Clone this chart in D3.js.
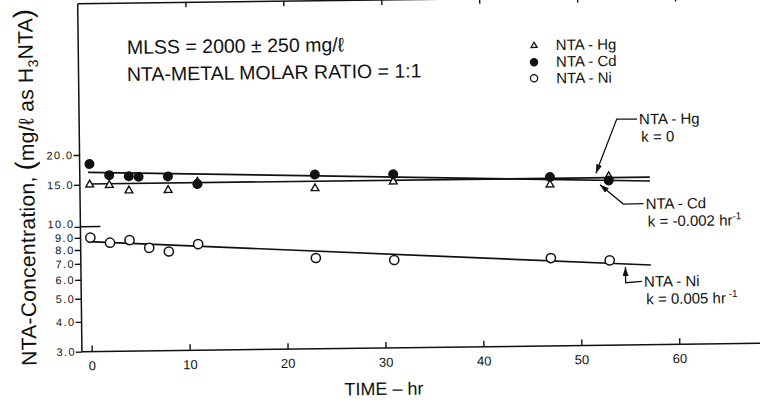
<!DOCTYPE html>
<meta charset="utf-8">
<style>
  body { margin: 0; background: #fff; }
  svg { display: block; font-family: "Liberation Sans", Arial, Helvetica, sans-serif; }
  text { fill: #111; }
</style>
<svg width="760" height="403"></svg>
<script src="https://d3js.org/d3.v7.min.js"></script>
<script>

// readings (time in hr, NTA in mg/l as H3NTA)
var hgHours = [0, 2, 4, 8, 11, 23, 31, 47, 53],
    hgConc  = [15.0, 14.9, 14.1, 14.1, 15.2, 14.1, 14.9, 14.2, 15.3];
var cdHours = [0, 2, 4, 5, 8, 11, 23, 31, 47, 53],
    cdConc  = [18.3, 16.4, 16.2, 16.1, 16.1, 14.9, 16.1, 16.0, 15.3, 14.7];
var niHours = [0, 2, 4, 6, 8, 11, 23, 31, 47, 53],
    niConc  = [9.0, 8.55, 8.75, 8.1, 7.8, 8.35, 7.2, 7.0, 7.0, 6.8];

// fitted first-order lines, end points
var fitHours = [-0.15, 57.2],
    hgFit = [15.1, 15.1],
    cdFit = [16.9, 14.55],
    niFit = [8.66, 6.47];

var xTicks = [0, 10, 20, 30, 40, 50, 60],
    yTicks = [3, 4, 5, 6, 7, 8, 9, 10, 15, 20];

var svg = d3.select("svg");
// the printed figure sits a little crooked on the page
var g = svg.append("g").attr("transform", "rotate(-0.7,380,200)");

var x = d3.scaleLinear().domain([0, 60]).range([89.9, 677.5]),
    y = d3.scaleLog().domain([3, 20]).range([348, 151.3]);

var left = x(-1), right = 790, top = 9.7, bottom = y(3);

svg.append("defs").append("marker")
    .attr("id", "arr")
    .attr("markerUnits", "userSpaceOnUse")
    .attr("markerWidth", 9).attr("markerHeight", 6)
    .attr("refX", 9).attr("refY", 3)
    .attr("orient", "auto")
  .append("path").attr("d", "M0,0L9,3L0,6Z").attr("fill", "#111");

// frame
var frame = g.append("g").attr("stroke", "#111").attr("stroke-width", 1.5);
frame.append("line").attr("x1", left).attr("x2", right).attr("y1", bottom).attr("y2", bottom);
frame.append("line").attr("x1", left).attr("x2", right).attr("y1", top).attr("y2", top);
frame.append("line").attr("x1", left).attr("x2", left).attr("y1", top).attr("y2", bottom);
frame.append("line").attr("x1", left).attr("x2", left + 20).attr("y1", y(10)).attr("y2", y(10));

// axes
var xAxis = g.append("g")
    .attr("transform", "translate(0," + bottom + ")")
    .call(d3.axisBottom(x).tickValues(xTicks).tickSizeInner(-6).tickSizeOuter(0).tickPadding(9.5));
xAxis.select(".domain").remove();
xAxis.attr("font-size", 13).attr("font-family", null);

var topAxis = g.append("g")
    .attr("transform", "translate(0," + top + ")")
    .call(d3.axisTop(x).tickValues(xTicks.slice(1)).tickSizeInner(-5).tickSizeOuter(0).tickFormat(""));
topAxis.select(".domain").remove();

var yAxis = g.append("g")
    .attr("transform", "translate(" + left + ",0)")
    .call(d3.axisLeft(y).tickValues(yTicks).tickSize(6).tickPadding(0).tickFormat(d3.format(".1f")));
yAxis.select(".domain").remove();
yAxis.attr("font-size", 11).attr("font-family", null);
yAxis.selectAll("text")
    .attr("letter-spacing", "1.4px")
    .attr("y", function(d) { return d === 10 ? -3 : 0; });

g.selectAll(".tick line").attr("stroke", "#111").attr("stroke-width", 1.4);
g.selectAll(".tick text").attr("fill", "#111");

// axis titles
g.append("text")
    .attr("x", 381.6).attr("y", 395)
    .attr("text-anchor", "middle")
    .attr("font-size", 18)
    .text("TIME – hr");

var yl = g.append("text")
    .attr("transform", "translate(27.2,183) rotate(-90)")
    .attr("text-anchor", "middle")
    .attr("dy", "0.35em")
    .attr("font-size", 21)
    .attr("letter-spacing", "0.3px");
yl.append("tspan").text("NTA-Concentration, ");
yl.append("tspan").attr("font-size", 27).text("(");
yl.append("tspan").text("mg/ℓ as H");
yl.append("tspan").attr("font-size", 14).attr("dy", 5).text("3");
yl.append("tspan").attr("dy", -5).text("NTA");
yl.append("tspan").attr("font-size", 27).text(")");

// fitted lines
var line = d3.line().x(function(d) { return x(d[0]); }).y(function(d) { return y(d[1]); });
[hgFit, cdFit, niFit].forEach(function(f) {
  g.append("path")
      .attr("d", line(d3.zip(fitHours, f)))
      .attr("fill", "none")
      .attr("stroke", "#111")
      .attr("stroke-width", 1.7);
});

// points
var tri = d3.symbol(d3.symbolTriangle).size(26);
g.append("g").selectAll("path")
    .data(d3.zip(hgHours, hgConc))
  .enter().append("path")
    .attr("d", tri)
    .attr("transform", function(d) { return "translate(" + x(d[0]) + "," + y(d[1]) + ")"; })
    .attr("fill", "#fff").attr("stroke", "#111").attr("stroke-width", 1.4);

g.append("g").selectAll("circle")
    .data(d3.zip(cdHours, cdConc))
  .enter().append("circle")
    .attr("cx", function(d) { return x(d[0]); })
    .attr("cy", function(d) { return y(d[1]); })
    .attr("r", 5)
    .attr("fill", "#111");

g.append("g").selectAll("circle")
    .data(d3.zip(niHours, niConc))
  .enter().append("circle")
    .attr("cx", function(d) { return x(d[0]); })
    .attr("cy", function(d) { return y(d[1]); })
    .attr("r", 4.6)
    .attr("fill", "#fff").attr("stroke", "#111").attr("stroke-width", 1.5);

// conditions
g.append("text").attr("x", 128.8).attr("y", 50.9).attr("font-size", 19.5)
    .text("MLSS = 2000 ± 250 mg/ℓ");
g.append("text").attr("x", 128.5).attr("y", 77.9).attr("font-size", 19.5)
    .text("NTA-METAL MOLAR RATIO = 1:1");

// legend
var lg = g.append("g").attr("font-size", 15);
lg.append("path").attr("d", d3.symbol(d3.symbolTriangle).size(16))
    .attr("transform", "translate(535.9,47.6)")
    .attr("fill", "#fff").attr("stroke", "#111").attr("stroke-width", 1.3);
lg.append("circle").attr("cx", 535.7).attr("cy", 64.2).attr("r", 4.2).attr("fill", "#111");
lg.append("circle").attr("cx", 535.5).attr("cy", 80.2).attr("r", 3.6)
    .attr("fill", "#fff").attr("stroke", "#111").attr("stroke-width", 1.3);
lg.append("text").attr("x", 557.7).attr("y", 52.2).text("NTA - Hg");
lg.append("text").attr("x", 557.7).attr("y", 68.9).text("NTA - Cd");
lg.append("text").attr("x", 557.7).attr("y", 85.5).text("NTA - Ni");

// rate labels with leaders
function fitAt(f, t) {
  var k = (t - fitHours[0]) / (fitHours[1] - fitHours[0]);
  return f[0] * Math.pow(f[1] / f[0], k);
}
var notes = [
  {name: "NTA - Hg", k: "k = 0", sup: "", lx: 640, ly: 127.5, fit: hgFit, t: 51.7, off: -4.5, elbow: [617.7, 122]},
  {name: "NTA - Cd", k: "k = -0.002 hr", sup: "-1", lx: 645.5, ly: 212.2, fit: cdFit, t: 52.1, off: 4.5, elbow: [623.3, 207]},
  {name: "NTA - Ni", k: "k = 0.005 hr", sup: " -1", lx: 643, ly: 289.9, fit: niFit, t: 54.6, off: 3, elbow: [null, 285.7]}
];
var ng = g.append("g").attr("font-size", 15);
notes.forEach(function(n) {
  ng.append("text").attr("x", n.lx).attr("y", n.ly).text(n.name);
  var kt = ng.append("text").attr("x", n.lx + 2).attr("y", n.ly + 17.5).text(n.k);
  if (n.sup) kt.append("tspan").attr("font-size", 10).attr("dy", -6).text(n.sup);
  var tx = x(n.t), ty = y(fitAt(n.fit, n.t)) + n.off;
  var ex = n.elbow[0] == null ? tx : n.elbow[0];
  ng.append("path")
      .attr("d", "M" + (n.lx - 2) + "," + (n.ly - 5.3) + "L" + ex + "," + n.elbow[1] + "L" + tx + "," + ty)
      .attr("fill", "none").attr("stroke", "#111").attr("stroke-width", 1.3)
      .attr("marker-end", "url(#arr)");
});

</script>
